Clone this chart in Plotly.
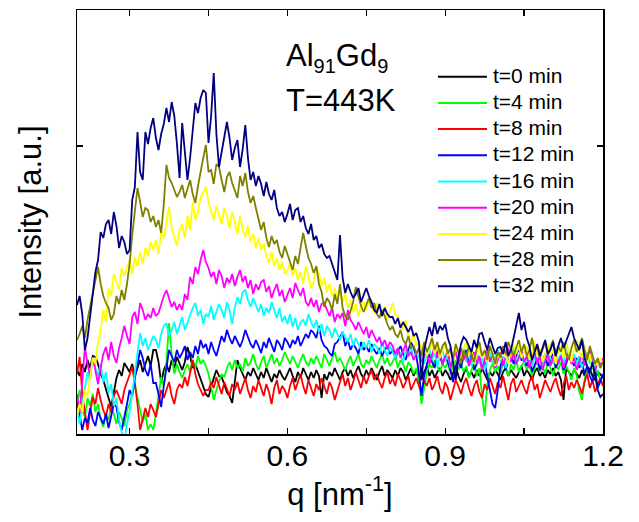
import numpy as np
import plotly.graph_objects as go

# q grid: 0.200 ... 1.200 nm^-1, step 0.005
Q_START, Q_STEP, N_PTS = 0.2, 0.005, 201
q = np.round(Q_START + Q_STEP * np.arange(N_PTS), 4)

names = ["t=0 min", "t=4 min", "t=8 min", "t=12 min", "t=16 min",
         "t=20 min", "t=24 min", "t=28 min", "t=32 min"]
colors = ["#000000", "#00ff00", "#ff0000", "#0000ff", "#00ffff",
          "#ff00ff", "#ffff00", "#808000", "#000080"]

t0 = [64, 58, 70, 62, 74, 66, 78, 77, 70, 60,
      54, 44, 36, 27, 40, 56, 64, 58, 71, 66,
      62, 70, 58, 66, 74, 62, 70, 78, 68, 84,
      84, 72, 51, 64, 70, 62, 74, 66, 77, 70,
      64, 72, 87, 78, 66, 70, 62, 54, 48, 40,
      37, 48, 56, 64, 58, 57, 50, 42, 38, 31,
      52, 74, 66, 60, 54, 62, 58, 66, 60, 54,
      62, 56, 66, 58, 52, 60, 56, 64, 58, 54,
      60, 66, 58, 52, 62, 56, 66, 60, 54, 62,
      56, 64, 58, 36, 60, 54, 62, 58, 66, 60,
      54, 62, 66, 58, 64, 56, 62, 68, 60, 56,
      64, 58, 66, 60, 54, 62, 68, 58, 64, 60,
      56, 64, 58, 66, 62, 54, 60, 66, 58, 64,
      60, 54, 62, 68, 58, 64, 56, 62, 66, 58,
      64, 60, 54, 62, 68, 58, 52, 60, 66, 58,
      62, 56, 64, 58, 66, 60, 54, 62, 58, 64,
      60, 54, 62, 66, 58, 64, 60, 56, 62, 68,
      58, 64, 60, 54, 62, 66, 58, 62, 56, 64,
      60, 66, 58, 62, 54, 34, 66, 62, 58, 64,
      60, 56, 64, 58, 62, 66, 58, 54, 62, 60,
      56]

t4 = [30, 44, 24, 17, 36, 28, 40, 22, 30, 14,
      7, 20, 14, 27, 20, 10, 22, 16, 8, 24,
      30, 40, 51, 36, 24, 12, 20, 4, 10, 4,
      20, 40, 57, 48, 72, 111, 80, 60, 70, 62,
      56, 64, 70, 62, 74, 66, 78, 70, 74, 68,
      60, 48, 34, 44, 52, 60, 57, 66, 72, 64,
      74, 66, 70, 62, 76, 68, 72, 80, 70, 64,
      72, 78, 66, 74, 80, 70, 76, 68, 74, 82,
      76, 70, 78, 72, 66, 74, 80, 72, 68, 76,
      70, 78, 72, 66, 80, 74, 68, 76, 82, 72,
      76, 70, 64, 72, 78, 68, 74, 80, 70, 66,
      74, 70, 78, 72, 66, 74, 80, 70, 76, 68,
      72, 78, 66, 74, 70, 62, 72, 68, 60, 66,
      52, 30, 48, 62, 70, 66, 74, 68, 62, 70,
      66, 72, 60, 68, 74, 64, 70, 62, 68, 56,
      64, 72, 58, 66, 38, 18, 50, 64, 70, 62,
      68, 60, 72, 66, 58, 70, 64, 74, 62, 68,
      72, 64, 70, 58, 66, 74, 62, 68, 60, 72,
      66, 58, 70, 64, 72, 60, 68, 62, 54, 66,
      58, 42, 34, 54, 66, 60, 70, 56, 64, 52,
      48]

t8 = [60, 77, 40, 20, 4, 22, 37, 30, 46, 34,
      24, 17, 30, 22, 38, 44, 36, 30, 44, 52,
      60, 67, 50, 30, 4, 14, 26, 17, 30, 24,
      17, 30, 44, 36, 44, 52, 38, 30, 44, 50,
      46, 57, 48, 62, 74, 60, 50, 44, 38, 44,
      44, 52, 46, 57, 48, 40, 52, 44, 38, 50,
      44, 52, 40, 48, 56, 44, 36, 48, 42, 54,
      46, 38, 50, 42, 30, 46, 54, 40, 48, 44,
      36, 48, 56, 44, 52, 60, 48, 40, 54, 46,
      38, 50, 44, 56, 48, 40, 52, 46, 34, 44,
      52, 60, 48, 56, 44, 52, 62, 54, 46, 58,
      50, 58, 64, 54, 60, 52, 46, 56, 62, 50,
      56, 48, 60, 54, 46, 52, 58, 44, 50, 56,
      48, 42, 54, 48, 56, 44, 50, 58, 46, 40,
      52, 46, 34, 44, 54, 48, 40, 50, 56, 46,
      38, 48, 54, 42, 36, 50, 44, 56, 48, 40,
      52, 46, 58, 44, 34, 50, 56, 42, 48, 54,
      46, 40, 52, 58, 44, 50, 36, 46, 54, 48,
      42, 50, 56, 46, 38, 50, 58, 44, 52, 46,
      54, 48, 40, 52, 60, 46, 54, 42, 50, 56,
      48]

t12 = [34, 20, 4, 16, 11, 26, 14, 8, 22, 16,
       10, 20, 6, 18, 30, 27, 12, 4, 16, 30,
       44, 38, 56, 70, 84, 76, 64, 58, 70, 51,
       51, 40, 27, 48, 66, 84, 78, 72, 84, 76,
       81, 88, 74, 82, 76, 88, 80, 94, 86, 90,
       80, 92, 84, 78, 88, 98, 92, 104, 96, 90,
       98, 92, 87, 94, 104, 97, 90, 86, 94, 88,
       81, 92, 86, 96, 88, 82, 94, 90, 84, 96,
       92, 86, 94, 90, 98, 88, 94, 100, 96, 104,
       101, 96, 108, 94, 88, 86, 81, 78, 90, 92,
       97, 102, 88, 94, 84, 90, 86, 80, 92, 84,
       88, 82, 90, 84, 80, 86, 78, 84, 88, 80,
       84, 76, 82, 88, 80, 74, 84, 92, 86, 78,
       62, 38, 58, 70, 80, 72, 66, 84, 76, 70,
       78, 72, 64, 52, 68, 74, 66, 78, 84, 72,
       80, 64, 70, 76, 66, 72, 58, 44, 30, 26,
       44, 68, 76, 64, 72, 82, 70, 78, 86, 74,
       74, 68, 80, 62, 70, 76, 64, 72, 80, 68,
       74, 82, 66, 72, 78, 64, 70, 80, 74, 68,
       76, 66, 72, 60, 68, 58, 52, 64, 46, 54,
       60]

t16 = [24, 10, 30, 48, 62, 54, 77, 66, 58, 70,
       52, 62, 41, 50, 28, 36, 14, 2, -6, 10,
       22, 41, 60, 78, 101, 88, 96, 84, 92, 98,
       94, 86, 100, 108, 111, 98, 104, 112, 100, 108,
       117, 104, 112, 120, 126, 131, 118, 124, 110, 120,
       117, 128, 114, 122, 130, 124, 116, 132, 124, 110,
       126, 137, 130, 142, 144, 134, 127, 136, 128, 122,
       130, 118, 126, 121, 132, 124, 116, 126, 112, 118,
       110, 120, 107, 116, 104, 112, 114, 108, 120, 112,
       106, 114, 102, 110, 98, 108, 104, 96, 106, 100,
       94, 102, 97, 92, 100, 88, 96, 90, 84, 92,
       86, 94, 82, 90, 87, 80, 92, 84, 78, 88,
       82, 76, 86, 80, 72, 84, 78, 88, 74, 82,
       76, 84, 70, 80, 86, 74, 82, 68, 78, 84,
       72, 80, 66, 76, 84, 70, 78, 86, 72, 80,
       68, 76, 82, 70, 78, 64, 74, 82, 70, 76,
       84, 72, 78, 66, 80, 74, 86, 70, 78, 82,
       70, 76, 84, 68, 78, 72, 80, 66, 74, 82,
       76, 70, 86, 74, 80, 68, 92, 78, 72, 80,
       70, 78, 66, 74, 82, 70, 76, 64, 72, 66,
       74]

t20 = [40, 21, 52, 87, 70, 58, 77, 64, 50, 66,
       80, 87, 74, 92, 78, 71, 86, 96, 108, 98,
       90, 117, 122, 110, 131, 124, 114, 120, 116, 126,
       118, 121, 130, 138, 144, 136, 127, 132, 124, 130,
       124, 140, 134, 157, 150, 167, 160, 174, 184, 172,
       166, 157, 162, 150, 164, 158, 146, 156, 151, 160,
       148, 157, 164, 152, 158, 146, 154, 140, 150, 144,
       152, 154, 142, 148, 136, 144, 150, 138, 144, 132,
       140, 146, 136, 151, 144, 138, 146, 132, 128, 136,
       127, 134, 122, 130, 131, 124, 118, 126, 112, 120,
       116, 121, 108, 124, 114, 110, 104, 112, 106, 100,
       107, 96, 104, 98, 92, 97, 88, 94, 86, 92,
       88, 80, 86, 76, 84, 90, 78, 82, 74, 80,
       86, 72, 78, 84, 70, 80, 88, 76, 82, 70,
       78, 84, 66, 76, 82, 70, 86, 74, 80, 68,
       76, 82, 70, 78, 64, 74, 84, 72, 80, 66,
       74, 82, 68, 78, 86, 72, 80, 70, 76, 84,
       72, 78, 66, 74, 82, 70, 78, 64, 72, 80,
       68, 76, 84, 70, 78, 66, 74, 82, 70, 76,
       64, 72, 80, 68, 76, 84, 70, 62, 74, 68,
       76]

t24 = [18, 30, 22, 44, 38, 60, 76, 70, 92, 104,
       124, 112, 146, 138, 160, 152, 144, 166, 158, 167,
       174, 160, 177, 168, 182, 170, 186, 178, 192, 184,
       194, 180, 202, 196, 214, 227, 206, 198, 188, 204,
       210, 196, 218, 204, 232, 214, 222, 236, 242, 247,
       232, 224, 214, 228, 220, 210, 226, 218, 206, 222,
       212, 200, 218, 204, 197, 208, 192, 200, 186, 196,
       184, 190, 178, 171, 182, 168, 176, 164, 172, 160,
       164, 170, 158, 166, 154, 162, 150, 168, 158, 146,
       152, 167, 160, 148, 156, 142, 150, 138, 146, 136,
       144, 132, 140, 126, 134, 122, 130, 118, 127, 132,
       124, 136, 128, 120, 131, 126, 118, 128, 114, 122,
       131, 120, 117, 110, 104, 114, 97, 92, 100, 88,
       94, 84, 90, 78, 86, 92, 80, 88, 76, 84,
       90, 78, 84, 72, 88, 80, 74, 86, 92, 78,
       84, 70, 80, 88, 76, 82, 72, 86, 78, 68,
       80, 74, 86, 78, 70, 84, 90, 80, 88, 76,
       82, 88, 74, 80, 92, 78, 86, 72, 80, 90,
       78, 84, 70, 82, 88, 76, 90, 80, 72, 86,
       94, 82, 76, 88, 72, 80, 66, 74, 68, 76,
       70]

t28 = [94, 100, 108, 96, 114, 128, 140, 152, 167, 150,
       138, 131, 126, 114, 120, 138, 130, 144, 134, 150,
       170, 199, 220, 246, 232, 217, 226, 224, 212, 218,
       207, 214, 201, 230, 269, 256, 251, 244, 237, 242,
       249, 236, 246, 254, 240, 231, 248, 264, 276, 289,
       262, 264, 250, 270, 267, 254, 242, 257, 262, 251,
       244, 236, 258, 248, 261, 242, 231, 238, 226, 214,
       204, 212, 196, 187, 198, 190, 194, 182, 176, 188,
       180, 172, 164, 178, 170, 186, 201, 188, 176, 170,
       161, 168, 150, 142, 127, 136, 132, 124, 140, 130,
       150, 126, 118, 114, 124, 132, 147, 138, 128, 122,
       130, 136, 126, 131, 120, 116, 124, 118, 110, 104,
       108, 100, 97, 104, 94, 90, 98, 86, 88, 81,
       84, 78, 92, 82, 88, 96, 84, 92, 80, 88,
       92, 80, 86, 74, 90, 82, 70, 84, 76, 88,
       80, 72, 86, 92, 78, 84, 74, 88, 80, 70,
       82, 76, 88, 80, 92, 84, 78, 86, 94, 82,
       90, 78, 84, 96, 82, 88, 76, 84, 92, 80,
       86, 94, 78, 88, 82, 92, 80, 74, 86, 94,
       82, 88, 96, 84, 74, 88, 80, 70, 76, 66,
       72]

t32 = [129, 138, 120, 84, 96, 118, 140, 162, 174, 202,
       196, 210, 214, 200, 222, 208, 186, 198, 192, 180,
       184, 234, 247, 302, 262, 254, 302, 290, 306, 316,
       296, 284, 300, 310, 326, 312, 332, 318, 290, 256,
       311, 282, 254, 276, 302, 331, 321, 336, 344, 341,
       291, 318, 361, 300, 267, 282, 294, 312, 296, 274,
       286, 294, 267, 285, 309, 276, 254, 262, 248, 258,
       250, 238, 252, 240, 234, 244, 226, 218, 222, 212,
       220, 230, 214, 224, 226, 212, 218, 206, 200, 210,
       194, 198, 186, 190, 180, 176, 178, 170, 160, 154,
       199, 156, 141, 150, 142, 136, 140, 146, 132, 140,
       146, 138, 132, 124, 121, 130, 118, 126, 120, 117,
       117, 110, 116, 106, 112, 107, 102, 108, 98, 101,
       92, 54, 84, 96, 107, 98, 112, 100, 108, 104,
       110, 96, 88, 71, 54, 76, 90, 97, 94, 88,
       82, 94, 86, 100, 101, 92, 84, 96, 88, 80,
       86, 87, 80, 92, 78, 84, 96, 108, 121, 104,
       112, 96, 88, 74, 82, 90, 78, 86, 94, 80,
       84, 92, 78, 88, 96, 86, 94, 100, 107, 96,
       90, 84, 94, 76, 68, 61, 72, 58, 44, 37,
       40]

series = [t0, t4, t8, t12, t16, t20, t24, t28, t32]
for s in series:
    assert len(s) == N_PTS, len(s)

FONT = "Liberation Sans, Arial, sans-serif"

fig = go.Figure()
for name, col, ys in zip(names, colors, series):
    fig.add_trace(go.Scatter(x=q, y=ys, mode="lines", name=name,
                             line=dict(color=col, width=1.8),
                             showlegend=False))

# plot-area geometry (px) used to place legend and labels
W, H = 639, 522
ML, MR, MT, MB = 77, 36, 10, 88
PW, PH = W - ML - MR, H - MT - MB

def px_x(x):
    return (x - ML) / PW

def px_y(y):
    return (H - MB - y) / PH

shapes = []
annotations = []
for k, (name, col) in enumerate(zip(names, colors)):
    yk = 76.7 + 26.2 * k
    shapes.append(dict(type="line", xref="paper", yref="paper",
                       x0=px_x(438), x1=px_x(487), y0=px_y(yk), y1=px_y(yk),
                       line=dict(color=col, width=2)))
    annotations.append(dict(text=name, xref="paper", yref="paper",
                            x=px_x(491), y=px_y(yk - 1.5), xanchor="left",
                            yanchor="middle", showarrow=False,
                            font=dict(family=FONT, size=21, color="#000")))

annotations.append(dict(text="Al<sub><span style='font-size:20px'>91</span></sub>Gd<sub><span style='font-size:20px'>9</span></sub>",
                        xref="paper", yref="paper", x=px_x(284), y=px_y(58),
                        xanchor="left", yanchor="middle", showarrow=False,
                        font=dict(family=FONT, size=31, color="#000")))
annotations.append(dict(text="T=443K", xref="paper", yref="paper",
                        x=px_x(284), y=px_y(100), xanchor="left",
                        yanchor="middle", showarrow=False,
                        font=dict(family=FONT, size=31, color="#000")))

fig.update_layout(
    width=W, height=H,
    margin=dict(l=ML, r=MR, t=MT, b=MB),
    paper_bgcolor="white", plot_bgcolor="white",
    font=dict(family=FONT, color="#000"),
    shapes=shapes, annotations=annotations,
    showlegend=False,
)
fig.update_xaxes(range=[0.2, 1.2], tick0=0.3, dtick=0.3, tickformat=".1f",
                 automargin=False, ticklabelstandoff=-6,
                 ticks="inside", ticklen=6, tickwidth=1.2, tickcolor="#000",
                 minor=dict(ticks="inside", dtick=0.15, tick0=0.15, ticklen=6,
                            tickcolor="#000", tickwidth=1.2),
                 showline=True, linecolor="#000", linewidth=1.5, mirror="ticks",
                 showgrid=False, zeroline=False,
                 tickfont=dict(family=FONT, size=30, color="#000"),
                 title=dict(text="q [nm<sup>-1</sup>]", standoff=8,
                            font=dict(family=FONT, size=31, color="#000")))
fig.update_yaxes(range=[0, 424], tickvals=[288], showticklabels=False,
                 automargin=False,
                 ticks="inside", ticklen=6, tickwidth=1.2, tickcolor="#000",
                 showline=True, linecolor="#000", linewidth=1.5, mirror="ticks",
                 showgrid=False, zeroline=False,
                 title=dict(text="Intensity [a.u.]", standoff=24,
                            font=dict(family=FONT, size=31, color="#000")))

fig.write_html("out.html",
               config={"displayModeBar": False, "staticPlot": True},
               post_script="document.body.style.margin='0';document.body.style.padding='0';")
